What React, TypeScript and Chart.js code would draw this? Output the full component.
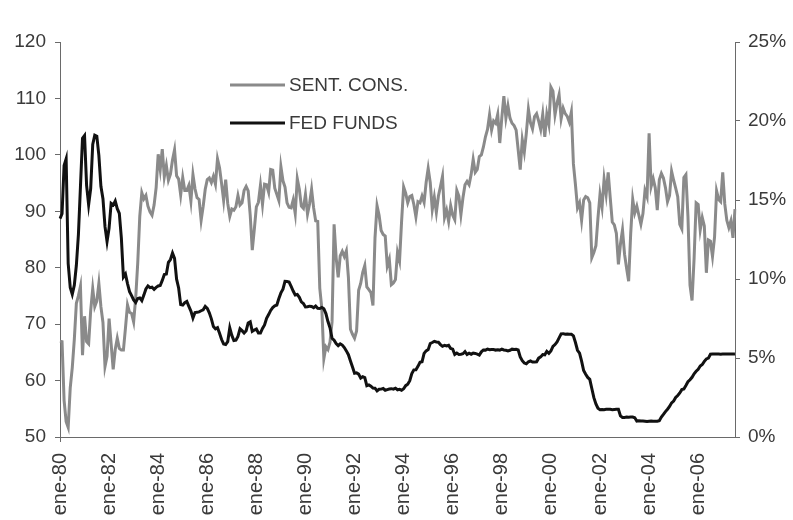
import React, { useEffect, useRef } from "react";
import { Chart, registerables } from "chart.js";

Chart.register(...registerables);

// Monthly data, Jan 1980 – Jul 2007
const SENT_LABEL = "SENT. CONS.";
const FED_LABEL = "FED FUNDS";

const SENT = [
  67.0, 66.9, 56.5, 52.7, 51.7, 58.7, 62.3, 67.3, 73.7, 75.0, 76.7, 64.5,
  71.4, 66.9, 66.5, 72.4, 76.3, 73.1, 74.1, 77.2, 73.1, 70.3, 62.5, 64.3,
  71.0, 66.5, 62.0, 65.5, 67.5, 65.7, 65.4, 65.4, 69.3, 73.4, 72.1, 71.9,
  70.4, 74.6, 80.8, 89.1, 93.3, 92.2, 92.8, 90.9, 89.9, 89.3, 91.1, 94.2,
  100.1, 97.4, 101.0, 96.1, 98.1, 95.5, 96.6, 99.1, 100.9, 96.3, 95.7, 92.9,
  96.0, 93.7, 93.7, 94.6, 91.8, 96.5, 94.0, 92.4, 92.1, 88.4, 90.9, 93.9,
  95.6, 95.9, 95.1, 96.2, 94.8, 99.3, 97.7, 94.9, 91.9, 95.6, 91.4, 89.1,
  90.4, 90.2, 90.8, 92.8, 91.1, 91.5, 93.7, 94.4, 93.6, 89.3, 83.1, 86.8,
  90.8, 91.6, 94.6, 91.2, 94.8, 94.7, 93.4, 97.4, 97.3, 94.1, 93.0, 91.9,
  97.9, 95.4, 94.3, 91.5, 90.7, 90.6, 92.0, 89.6, 95.8, 93.9, 90.9, 90.5,
  93.0, 89.5, 91.3, 93.9, 90.6, 88.3, 88.2, 76.4, 72.8, 63.9, 66.0, 65.5,
  66.8, 70.4, 87.7, 81.8, 78.3, 82.1, 82.9, 82.0, 83.0, 78.3, 69.1, 68.2,
  67.5, 68.8, 76.0, 77.2, 79.2, 80.4, 76.6, 76.1, 75.6, 73.3, 85.3, 91.0,
  89.3, 86.6, 85.9, 85.6, 80.3, 81.5, 77.0, 77.3, 77.9, 82.7, 81.2, 88.2,
  94.3, 93.2, 91.5, 92.6, 92.8, 91.2, 89.0, 91.7, 91.5, 92.7, 91.6, 95.1,
  97.6, 95.1, 90.3, 92.5, 89.8, 92.7, 94.4, 96.2, 88.9, 90.2, 88.2, 91.0,
  89.3, 88.5, 93.7, 92.7, 89.4, 92.4, 94.7, 95.3, 94.7, 96.5, 99.2, 96.9,
  97.4, 99.7, 100.0, 101.4, 103.2, 104.5, 107.1, 104.4, 106.0, 105.6, 107.2, 102.1,
  106.6, 110.4, 106.5, 108.7, 106.5, 105.6, 105.2, 104.4, 100.9, 97.4, 102.7, 100.5,
  103.9, 108.1, 105.7, 104.6, 106.8, 107.3, 106.0, 104.5, 107.2, 103.2, 107.2, 105.4,
  112.0, 111.3, 107.1, 109.2, 110.7, 106.4, 108.3, 107.3, 106.8, 105.8, 107.6, 98.4,
  94.7, 90.6, 91.5, 88.4, 92.0, 92.6, 92.4, 91.5, 81.8, 82.7, 83.9, 88.8,
  93.0, 90.7, 95.7, 93.0, 96.9, 92.4, 88.1, 87.6, 86.1, 80.6, 84.2, 86.7,
  82.4, 79.9, 77.6, 86.0, 92.1, 89.7, 90.9, 89.3, 87.7, 89.6, 93.7, 92.6,
  103.8, 94.4, 95.8, 94.2, 90.2, 95.6, 96.7, 95.9, 94.2, 91.7, 92.8, 97.1,
  95.5, 94.1, 92.6, 87.7, 86.9, 96.0, 96.5, 89.1, 76.9, 74.2, 81.6, 91.5,
  91.2, 86.7, 88.9, 87.4, 79.1, 84.9, 84.7, 82.0, 85.4, 93.6, 92.1, 91.7,
  96.9, 91.3, 88.4, 87.1, 88.3, 85.3, 90.4,
];

const FED = [
  13.82, 14.13, 17.19, 17.61, 10.98, 9.47, 9.03, 9.61, 10.87, 12.81, 15.85, 18.9,
  19.08, 15.93, 14.7, 15.72, 18.52, 19.1, 19.04, 17.82, 15.87, 15.08, 13.31, 12.37,
  13.22, 14.78, 14.68, 14.94, 14.45, 14.15, 12.59, 10.12, 10.31, 9.71, 9.2, 8.95,
  8.68, 8.51, 8.77, 8.8, 8.63, 8.98, 9.37, 9.56, 9.45, 9.48, 9.34, 9.47,
  9.56, 9.59, 9.91, 10.29, 10.32, 11.06, 11.23, 11.64, 11.3, 9.99, 9.43, 8.38,
  8.35, 8.5, 8.58, 8.27, 7.97, 7.53, 7.88, 7.9, 7.92, 7.99, 8.05, 8.27,
  8.14, 7.86, 7.48, 6.99, 6.85, 6.92, 6.56, 6.17, 5.89, 5.85, 6.04, 6.91,
  6.43, 6.1, 6.13, 6.37, 6.85, 6.73, 6.58, 6.73, 7.22, 7.29, 6.69, 6.77,
  6.83, 6.58, 6.58, 6.87, 7.09, 7.51, 7.75, 8.01, 8.19, 8.3, 8.35, 8.76,
  9.12, 9.36, 9.85, 9.84, 9.81, 9.53, 9.24, 8.99, 9.02, 8.84, 8.55, 8.45,
  8.23, 8.24, 8.28, 8.26, 8.18, 8.29, 8.15, 8.13, 8.2, 8.11, 7.81, 7.31,
  6.91, 6.25, 6.12, 5.91, 5.78, 5.9, 5.82, 5.66, 5.45, 5.21, 4.81, 4.43,
  4.03, 4.06, 3.98, 3.73, 3.82, 3.76, 3.25, 3.3, 3.22, 3.1, 3.09, 2.92,
  3.02, 3.03, 3.07, 2.96, 3.0, 3.04, 3.06, 3.03, 3.09, 2.99, 3.02, 2.96,
  3.05, 3.25, 3.34, 3.56, 4.01, 4.25, 4.26, 4.47, 4.73, 4.76, 5.29, 5.45,
  5.53, 5.92, 5.98, 6.05, 6.01, 6.0, 5.85, 5.74, 5.8, 5.76, 5.8, 5.6,
  5.56, 5.22, 5.31, 5.22, 5.24, 5.27, 5.4, 5.22, 5.3, 5.24, 5.31, 5.29,
  5.25, 5.19, 5.39, 5.51, 5.5, 5.56, 5.52, 5.54, 5.54, 5.5, 5.52, 5.5,
  5.56, 5.51, 5.49, 5.45, 5.49, 5.56, 5.54, 5.55, 5.51, 5.07, 4.83, 4.68,
  4.63, 4.76, 4.81, 4.74, 4.74, 4.76, 4.99, 5.07, 5.22, 5.2, 5.42, 5.3,
  5.45, 5.73, 5.85, 6.02, 6.27, 6.53, 6.54, 6.5, 6.52, 6.51, 6.51, 6.4,
  5.98, 5.49, 5.31, 4.8, 4.21, 3.97, 3.77, 3.65, 3.07, 2.49, 2.09, 1.82,
  1.73, 1.74, 1.73, 1.75, 1.75, 1.75, 1.73, 1.74, 1.75, 1.75, 1.34, 1.24,
  1.24, 1.26, 1.25, 1.26, 1.26, 1.22, 1.01, 1.03, 1.01, 1.01, 1.0, 0.98,
  1.0, 1.01, 1.0, 1.0, 1.0, 1.03, 1.26, 1.43, 1.61, 1.76, 1.93, 2.16,
  2.28, 2.5, 2.63, 2.79, 3.0, 3.04, 3.26, 3.5, 3.62, 3.78, 4.0, 4.16,
  4.29, 4.49, 4.59, 4.79, 4.94, 4.99, 5.24, 5.25, 5.25, 5.25, 5.25, 5.24,
  5.25, 5.26, 5.26, 5.25, 5.25, 5.25, 5.26,
];

const MONTHS = ["ene", "feb", "mar", "abr", "may", "jun", "jul", "ago", "sep", "oct", "nov", "dic"];
const START_YEAR = 1980;
const LABELS = SENT.map(
  (_, i) =>
    `${MONTHS[i % 12]}-${String((START_YEAR + Math.floor(i / 12)) % 100).padStart(2, "0")}`
);
// shown x tick: January of every even year
const isShownTick = (i: number) => i % 12 === 0 && Math.floor(i / 12) % 2 === 0;

const LEFT_TICKS = { min: 50, max: 120, step: 10 };
const RIGHT_TICKS = { min: 0, max: 25, step: 5 };

const FONT = "'Liberation Sans', Arial, sans-serif";
const TEXT = "#3a3a3a";
const AXIS = "#6a6a6a";
const SENT_COLOR = "#8a8a8a";
const FED_COLOR = "#111111";

const legendPlugin = {
  id: "insideLegend",
  afterDraw(chart: any) {
    const { ctx, chartArea } = chart;
    const items = [
      { label: SENT_LABEL, color: SENT_COLOR },
      { label: FED_LABEL, color: FED_COLOR },
    ];
    ctx.save();
    ctx.font = `19px ${FONT}`;
    ctx.textBaseline = "middle";
    items.forEach((it, i) => {
      const x0 = chartArea.left + 170;
      const y = chartArea.top + 43 + i * 38;
      ctx.strokeStyle = it.color;
      ctx.lineWidth = 3;
      ctx.beginPath();
      ctx.moveTo(x0, y);
      ctx.lineTo(x0 + 55, y);
      ctx.stroke();
      ctx.fillStyle = TEXT;
      ctx.fillText(it.label, x0 + 59, y + 1);
    });
    ctx.restore();
  },
};

export default function App() {
  const ref = useRef<HTMLCanvasElement>(null);

  useEffect(() => {
    document.body.style.margin = "0";
    const chart = new Chart(ref.current as HTMLCanvasElement, {
      type: "line",
      data: {
        labels: LABELS,
        datasets: [
          {
            label: FED_LABEL,
            data: FED,
            yAxisID: "y1",
            borderColor: FED_COLOR,
            borderWidth: 3,
            pointRadius: 0,
            tension: 0,
            fill: false,
          },
          {
            label: SENT_LABEL,
            data: SENT,
            yAxisID: "y",
            borderColor: SENT_COLOR,
            borderWidth: 3,
            pointRadius: 0,
            tension: 0,
            fill: false,
          },
        ],
      },
      options: {
        animation: false,
        responsive: true,
        maintainAspectRatio: false,
        layout: { padding: { top: 42, left: 0, right: 0, bottom: 0 } },
        plugins: {
          legend: { display: false },
          tooltip: { enabled: false },
          title: { display: false },
        },
        scales: {
          x: {
            type: "category",
            offset: false,
            grid: {
              drawOnChartArea: false,
              drawTicks: true,
              tickLength: 5,
              tickColor: (c: any) => (isShownTick(c.index) ? AXIS : "rgba(0,0,0,0)"),
            },
            border: { color: AXIS, width: 1 },
            ticks: {
              autoSkip: false,
              maxRotation: 90,
              minRotation: 90,
              padding: 11,
              color: TEXT,
              font: { family: FONT, size: 20 },
              callback: (_v: any, i: number) => (isShownTick(i) ? LABELS[i] : null),
            },
            afterFit: (s: any) => {
              s.height = 83;
            },
          },
          y: {
            position: "left",
            min: LEFT_TICKS.min,
            max: LEFT_TICKS.max,
            grid: { drawOnChartArea: false, tickLength: 5, tickColor: AXIS },
            border: { color: AXIS, width: 1 },
            ticks: {
              stepSize: LEFT_TICKS.step,
              padding: 9,
              color: TEXT,
              font: { family: FONT, size: 19 },
            },
            afterFit: (s: any) => {
              s.width = 60;
            },
          },
          y1: {
            position: "right",
            min: RIGHT_TICKS.min,
            max: RIGHT_TICKS.max,
            grid: { drawOnChartArea: false, tickLength: 5, tickColor: AXIS },
            border: { color: AXIS, width: 1 },
            ticks: {
              stepSize: RIGHT_TICKS.step,
              padding: 8,
              color: TEXT,
              font: { family: FONT, size: 19 },
              callback: (v: any) => `${v}%`,
            },
            afterFit: (s: any) => {
              s.width = 58;
            },
          },
        },
      },
      plugins: [legendPlugin],
    });
    return () => chart.destroy();
  }, []);

  return (
    <div style={{ position: "fixed", left: 0, top: 0, width: 793, height: 520, background: "#fff" }}>
      <canvas ref={ref} />
    </div>
  );
}
